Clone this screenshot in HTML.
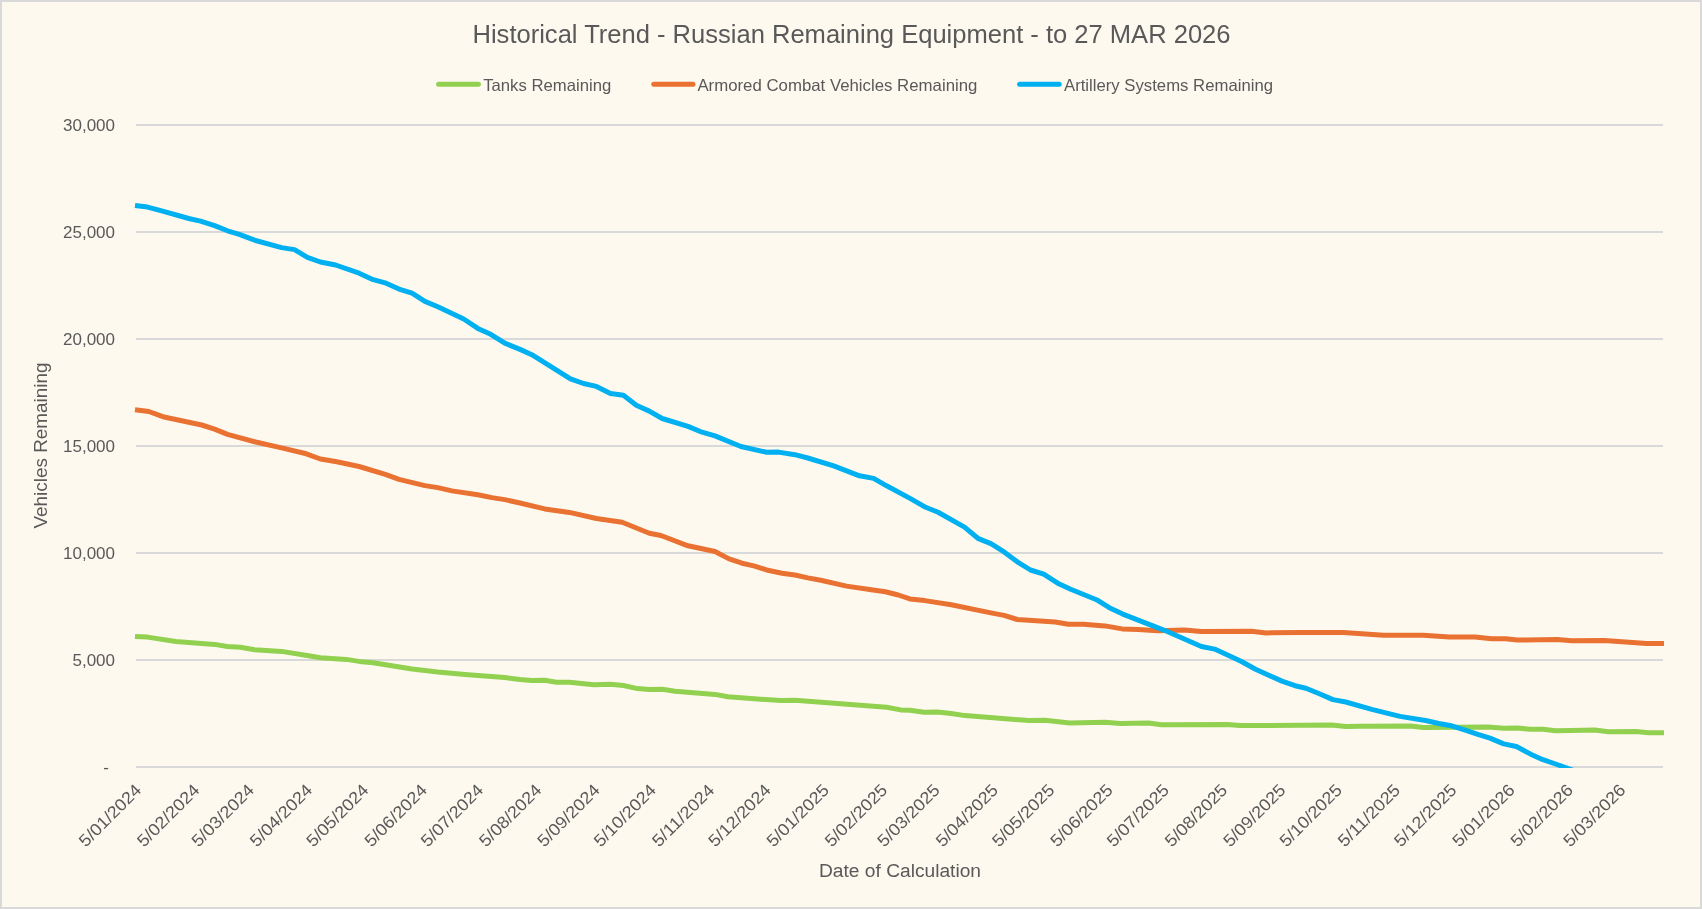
<!DOCTYPE html>
<html><head><meta charset="utf-8"><title>Historical Trend</title>
<style>
html,body{margin:0;padding:0;background:#FEF9EF;}
body{width:1702px;height:909px;overflow:hidden;}
svg{display:block;font-family:"Liberation Sans",sans-serif;will-change:transform;}
</style></head><body>
<svg width="1702" height="909" viewBox="0 0 1702 909">
<rect x="0" y="0" width="1702" height="909" fill="#D9D9D9"/>
<rect x="2" y="2" width="1698" height="905" fill="#FEF9EF"/>
<defs><clipPath id="pc"><rect x="120" y="110" width="1560" height="658"/></clipPath></defs>

<text x="472.5" y="43" font-size="25.5" fill="#595959" textLength="758" lengthAdjust="spacingAndGlyphs">Historical Trend - Russian Remaining Equipment - to 27 MAR 2026</text>
<line x1="438.6" y1="84.3" x2="478.4" y2="84.3" stroke="#92D050" stroke-width="5" stroke-linecap="round"/>
<text x="483.2" y="90.8" font-size="16.5" fill="#595959" textLength="128" lengthAdjust="spacingAndGlyphs">Tanks Remaining</text>
<line x1="653.8" y1="84.3" x2="693.0" y2="84.3" stroke="#E97132" stroke-width="5" stroke-linecap="round"/>
<text x="697.4" y="90.8" font-size="16.5" fill="#595959" textLength="280" lengthAdjust="spacingAndGlyphs">Armored Combat Vehicles Remaining</text>
<line x1="1019.6" y1="84.3" x2="1059.2" y2="84.3" stroke="#00B0F0" stroke-width="5" stroke-linecap="round"/>
<text x="1064.0" y="90.8" font-size="16.5" fill="#595959" textLength="209" lengthAdjust="spacingAndGlyphs">Artillery Systems Remaining</text>
<rect x="136" y="124" width="1527" height="2" fill="#D9D9D9"/>
<rect x="136" y="231" width="1527" height="2" fill="#D9D9D9"/>
<rect x="136" y="338" width="1527" height="2" fill="#D9D9D9"/>
<rect x="136" y="445" width="1527" height="2" fill="#D9D9D9"/>
<rect x="136" y="552" width="1527" height="2" fill="#D9D9D9"/>
<rect x="136" y="659" width="1527" height="2" fill="#D9D9D9"/>
<rect x="136" y="766" width="1527" height="2" fill="#D9D9D9"/>
<text x="115" y="130.9" font-size="17" fill="#595959" text-anchor="end">30,000</text>
<text x="115" y="237.9" font-size="17" fill="#595959" text-anchor="end">25,000</text>
<text x="115" y="344.9" font-size="17" fill="#595959" text-anchor="end">20,000</text>
<text x="115" y="451.9" font-size="17" fill="#595959" text-anchor="end">15,000</text>
<text x="115" y="558.9" font-size="17" fill="#595959" text-anchor="end">10,000</text>
<text x="115" y="665.9" font-size="17" fill="#595959" text-anchor="end">5,000</text>
<text x="103.2" y="772.9" font-size="17" fill="#595959">-</text>
<text transform="translate(142.4,791.2) rotate(-45)" font-size="17" fill="#595959" text-anchor="end" textLength="80" lengthAdjust="spacingAndGlyphs">5/01/2024</text>
<text transform="translate(200.6,791.2) rotate(-45)" font-size="17" fill="#595959" text-anchor="end" textLength="80" lengthAdjust="spacingAndGlyphs">5/02/2024</text>
<text transform="translate(255.1,791.2) rotate(-45)" font-size="17" fill="#595959" text-anchor="end" textLength="80" lengthAdjust="spacingAndGlyphs">5/03/2024</text>
<text transform="translate(313.4,791.2) rotate(-45)" font-size="17" fill="#595959" text-anchor="end" textLength="80" lengthAdjust="spacingAndGlyphs">5/04/2024</text>
<text transform="translate(369.7,791.2) rotate(-45)" font-size="17" fill="#595959" text-anchor="end" textLength="80" lengthAdjust="spacingAndGlyphs">5/05/2024</text>
<text transform="translate(428.0,791.2) rotate(-45)" font-size="17" fill="#595959" text-anchor="end" textLength="80" lengthAdjust="spacingAndGlyphs">5/06/2024</text>
<text transform="translate(484.4,791.2) rotate(-45)" font-size="17" fill="#595959" text-anchor="end" textLength="80" lengthAdjust="spacingAndGlyphs">5/07/2024</text>
<text transform="translate(542.6,791.2) rotate(-45)" font-size="17" fill="#595959" text-anchor="end" textLength="80" lengthAdjust="spacingAndGlyphs">5/08/2024</text>
<text transform="translate(600.9,791.2) rotate(-45)" font-size="17" fill="#595959" text-anchor="end" textLength="80" lengthAdjust="spacingAndGlyphs">5/09/2024</text>
<text transform="translate(657.2,791.2) rotate(-45)" font-size="17" fill="#595959" text-anchor="end" textLength="80" lengthAdjust="spacingAndGlyphs">5/10/2024</text>
<text transform="translate(715.5,791.2) rotate(-45)" font-size="17" fill="#595959" text-anchor="end" textLength="80" lengthAdjust="spacingAndGlyphs">5/11/2024</text>
<text transform="translate(771.8,791.2) rotate(-45)" font-size="17" fill="#595959" text-anchor="end" textLength="80" lengthAdjust="spacingAndGlyphs">5/12/2024</text>
<text transform="translate(830.1,791.2) rotate(-45)" font-size="17" fill="#595959" text-anchor="end" textLength="80" lengthAdjust="spacingAndGlyphs">5/01/2025</text>
<text transform="translate(888.3,791.2) rotate(-45)" font-size="17" fill="#595959" text-anchor="end" textLength="80" lengthAdjust="spacingAndGlyphs">5/02/2025</text>
<text transform="translate(940.9,791.2) rotate(-45)" font-size="17" fill="#595959" text-anchor="end" textLength="80" lengthAdjust="spacingAndGlyphs">5/03/2025</text>
<text transform="translate(999.2,791.2) rotate(-45)" font-size="17" fill="#595959" text-anchor="end" textLength="80" lengthAdjust="spacingAndGlyphs">5/04/2025</text>
<text transform="translate(1055.5,791.2) rotate(-45)" font-size="17" fill="#595959" text-anchor="end" textLength="80" lengthAdjust="spacingAndGlyphs">5/05/2025</text>
<text transform="translate(1113.8,791.2) rotate(-45)" font-size="17" fill="#595959" text-anchor="end" textLength="80" lengthAdjust="spacingAndGlyphs">5/06/2025</text>
<text transform="translate(1170.2,791.2) rotate(-45)" font-size="17" fill="#595959" text-anchor="end" textLength="80" lengthAdjust="spacingAndGlyphs">5/07/2025</text>
<text transform="translate(1228.4,791.2) rotate(-45)" font-size="17" fill="#595959" text-anchor="end" textLength="80" lengthAdjust="spacingAndGlyphs">5/08/2025</text>
<text transform="translate(1286.7,791.2) rotate(-45)" font-size="17" fill="#595959" text-anchor="end" textLength="80" lengthAdjust="spacingAndGlyphs">5/09/2025</text>
<text transform="translate(1343.0,791.2) rotate(-45)" font-size="17" fill="#595959" text-anchor="end" textLength="80" lengthAdjust="spacingAndGlyphs">5/10/2025</text>
<text transform="translate(1401.3,791.2) rotate(-45)" font-size="17" fill="#595959" text-anchor="end" textLength="80" lengthAdjust="spacingAndGlyphs">5/11/2025</text>
<text transform="translate(1457.6,791.2) rotate(-45)" font-size="17" fill="#595959" text-anchor="end" textLength="80" lengthAdjust="spacingAndGlyphs">5/12/2025</text>
<text transform="translate(1515.9,791.2) rotate(-45)" font-size="17" fill="#595959" text-anchor="end" textLength="80" lengthAdjust="spacingAndGlyphs">5/01/2026</text>
<text transform="translate(1574.1,791.2) rotate(-45)" font-size="17" fill="#595959" text-anchor="end" textLength="80" lengthAdjust="spacingAndGlyphs">5/02/2026</text>
<text transform="translate(1626.7,791.2) rotate(-45)" font-size="17" fill="#595959" text-anchor="end" textLength="80" lengthAdjust="spacingAndGlyphs">5/03/2026</text>
<text transform="translate(46.8,445.5) rotate(-90)" font-size="19.2" fill="#595959" text-anchor="middle" textLength="166" lengthAdjust="spacingAndGlyphs">Vehicles Remaining</text>
<text x="819" y="876.7" font-size="19.2" fill="#595959" textLength="162" lengthAdjust="spacingAndGlyphs">Date of Calculation</text>
<g clip-path="url(#pc)" fill="none" stroke-width="5" stroke-linejoin="round" stroke-linecap="butt">
<polyline points="135.0,636.5 147.6,637.1 175.8,641.5 214.6,644.4 227.5,646.5 240.5,647.3 254.6,649.7 281.6,651.4 308.6,655.8 320.4,657.7 346.2,659.4 359.1,661.4 373.2,662.7 412.0,669.0 437.8,672.1 464.8,674.4 504.8,677.6 520.0,679.6 531.8,680.6 544.7,680.3 556.4,682.3 569.4,682.3 594.0,684.7 610.5,684.3 623.4,685.5 637.5,688.6 649.3,689.4 662.2,689.2 675.1,691.2 715.0,694.4 727.9,696.8 780.8,700.6 794.9,700.3 886.6,707.3 900.7,709.9 910.0,710.3 924.1,712.3 937.0,712.1 951.1,713.5 965.2,715.6 1028.7,720.6 1045.1,720.3 1069.8,722.9 1105.0,722.3 1120.3,723.5 1148.5,723.1 1161.4,724.7 1227.2,724.4 1240.1,725.6 1300.0,725.2 1331.7,724.9 1345.8,726.4 1358.8,726.2 1410.5,726.1 1423.4,727.6 1488.0,727.0 1503.7,728.3 1517.5,728.0 1530.2,729.3 1542.9,729.3 1555.6,730.7 1570.4,730.4 1594.7,730.1 1608.4,731.7 1635.9,731.5 1648.6,732.8 1664.0,732.8" stroke="#92D050"/>
<polyline points="135.0,409.7 148.8,411.5 162.9,416.7 201.7,425.0 214.6,429.1 227.5,434.4 255.7,442.0 281.6,447.9 306.3,453.8 320.4,459.0 336.8,461.8 359.1,466.5 386.1,474.7 399.0,479.4 424.9,485.6 437.8,487.6 451.9,490.9 477.8,494.7 491.9,497.6 504.8,499.6 520.0,503.0 544.7,508.9 569.4,512.4 596.4,518.5 622.2,522.3 649.3,533.2 661.0,535.5 688.0,545.8 702.1,548.8 715.0,551.5 729.1,558.9 742.0,563.2 753.8,565.9 767.9,570.3 782.0,573.2 794.9,575.0 807.8,577.9 820.8,580.3 846.6,586.1 871.3,589.7 885.4,591.8 898.3,595.0 910.0,598.9 924.9,600.6 951.3,604.7 990.9,612.9 1004.1,615.4 1017.3,619.5 1055.2,622.0 1068.4,624.2 1083.3,624.2 1105.0,625.9 1122.2,628.9 1138.0,629.6 1157.8,630.7 1184.2,629.9 1201.4,631.6 1251.5,631.2 1266.1,632.9 1300.0,632.4 1343.5,632.4 1383.4,635.3 1423.4,635.3 1449.2,637.1 1475.1,637.1 1491.5,638.8 1505.6,638.8 1517.4,640.0 1557.3,639.5 1571.4,640.7 1604.3,640.4 1646.6,643.5 1664.0,643.5" stroke="#E97132"/>
<polyline points="135.0,205.6 147.6,207.1 161.7,210.9 188.8,218.5 200.5,221.1 214.6,225.6 227.5,230.8 239.3,234.4 254.6,240.2 281.6,247.6 294.5,249.6 307.4,257.3 320.4,262.0 335.6,265.0 359.1,273.2 373.2,279.7 386.1,283.2 399.0,289.1 412.0,293.2 424.9,301.4 437.8,306.7 463.7,319.0 477.8,328.4 490.7,334.3 504.8,343.1 520.0,349.4 531.8,354.7 570.5,378.8 583.5,383.5 596.4,386.4 610.5,393.5 623.4,395.2 636.3,405.2 649.3,411.1 662.2,418.5 688.0,426.4 702.1,432.2 715.0,435.9 740.9,446.5 766.7,452.3 778.5,452.1 794.9,454.7 807.8,458.0 833.7,465.8 859.5,475.8 873.6,478.4 886.6,485.8 910.5,498.6 925.7,507.3 938.1,512.3 964.5,527.1 978.5,538.7 990.9,543.6 1004.1,551.9 1017.3,561.8 1030.5,570.0 1043.7,574.2 1057.7,583.2 1070.1,589.0 1096.5,599.7 1109.3,607.7 1122.2,613.8 1164.4,630.3 1201.4,646.5 1214.6,649.1 1241.0,661.3 1255.5,669.2 1281.9,681.1 1295.1,685.7 1305.9,688.2 1318.8,693.5 1332.9,699.6 1345.8,702.0 1371.7,709.4 1399.9,716.4 1425.7,720.5 1438.7,723.5 1451.6,725.8 1464.5,729.9 1478.6,734.6 1490.0,738.1 1503.7,743.9 1516.4,746.5 1530.2,753.9 1542.9,759.7 1555.6,764.0 1568.3,768.7 1590.0,776.0" stroke="#00B0F0"/>
</g>
</svg></body></html>
